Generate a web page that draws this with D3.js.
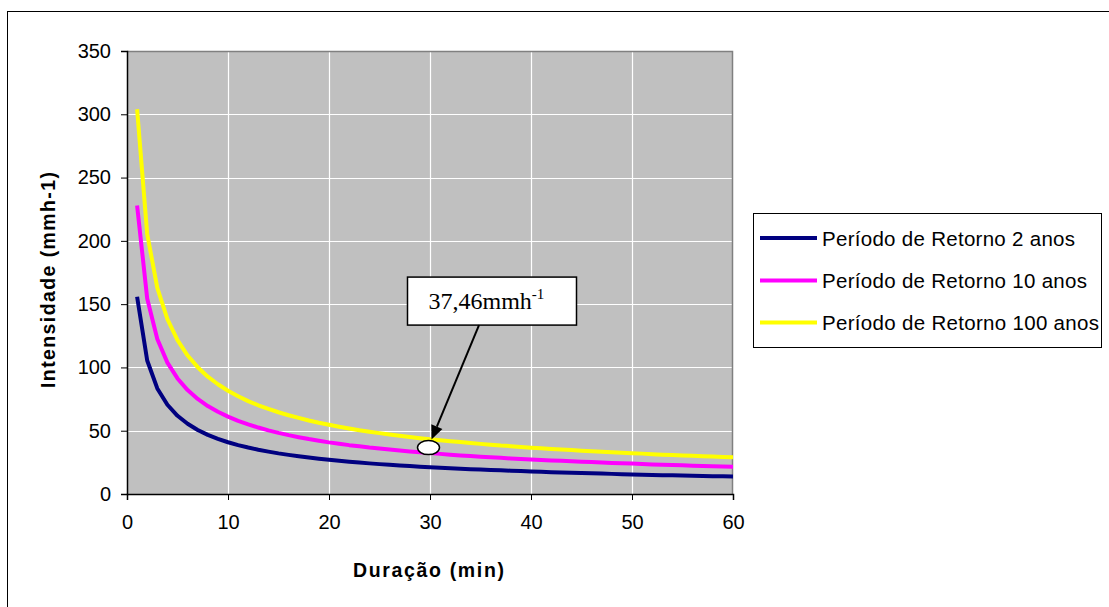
<!DOCTYPE html>
<html>
<head>
<meta charset="utf-8">
<script src="https://cdn.jsdelivr.net/npm/d3@7"></script>
<style>
  html, body { margin: 0; padding: 0; background: #fff; }
  svg { display: block; }
  text { font-family: "Liberation Sans", Arial, sans-serif; fill: #000; }
</style>
</head>
<body>
<svg id="chart" width="1109" height="607"></svg>
<script>
// ---- data ----
const durations = [1,2,3,4,5,6,7,8,9,10,11,12,13,14,15,16,17,18,19,20,
  21,22,23,24,25,26,27,28,29,30,31,32,33,34,35,36,37,38,39,40,
  41,42,43,44,45,46,47,48,49,50,51,52,53,54,55,56,57,58,59,60];

const ret2 = [155.8,105.5,83.4,70.5,61.8,55.5,50.6,46.7,43.6,40.9,
  38.6,36.7,35.0,33.5,32.1,30.9,29.8,28.8,27.9,27.0,
  26.2,25.5,24.8,24.2,23.6,23.1,22.6,22.1,21.6,21.2,
  20.8,20.4,20.0,19.6,19.3,19.0,18.7,18.4,18.1,17.8,
  17.5,17.2,17.0,16.7,16.5,16.3,16.1,15.9,15.7,15.5,
  15.3,15.1,14.9,14.8,14.6,14.4,14.3,14.1,14.0,13.8];

const ret10 = [228.0,154.4,122.5,103.8,91.3,82.1,75.1,69.5,65.0,61.1,
  57.8,55.0,52.5,50.3,48.3,46.5,44.9,43.4,42.1,40.8,
  39.7,38.6,37.7,36.7,35.9,35.1,34.3,33.6,32.9,32.3,
  31.7,31.1,30.5,30.0,29.5,29.0,28.6,28.1,27.7,27.3,
  26.9,26.5,26.2,25.8,25.5,25.2,24.8,24.5,24.2,24.0,
  23.7,23.4,23.2,22.9,22.7,22.4,22.2,22.0,21.8,21.6];

const ret100 = [304.0,205.4,162.9,138.2,121.5,109.4,100.2,92.7,86.7,81.6,
  77.2,73.4,70.1,67.2,64.6,62.2,60.1,58.1,56.3,54.7,
  53.2,51.8,50.4,49.2,48.1,47.0,46.0,45.0,44.1,43.3,
  42.5,41.7,41.0,40.3,39.6,39.0,38.3,37.8,37.2,36.6,
  36.1,35.6,35.2,34.7,34.2,33.8,33.4,33.0,32.6,32.2,
  31.9,31.5,31.1,30.8,30.5,30.2,29.9,29.6,29.3,29.0];

const seriesNames = ["Período de Retorno 2 anos", "Período de Retorno 10 anos", "Período de Retorno 100 anos"];
const seriesColors = ["#000080", "#FF00FF", "#FFFF00"];
const xTicks = [0, 10, 20, 30, 40, 50, 60];
const yTicks = [0, 50, 100, 150, 200, 250, 300, 350];
const xTitle = "Duração (min)";
const yTitle = "Intensidade (mmh-1)";
const annotX = 30;
const annotValue = 37.46;
const annotLabel = "37,46mmh";
const annotSup = "-1";

// ---- layout ----
const svg = d3.select("#chart");
const L = 127, R = 733, T = 51, B = 494;

const x = d3.scaleLinear().domain([0, 60]).range([L, R]);
const y = d3.scaleLinear().domain([0, 350]).range([B, T]);

// outer chart border (extends beyond the picture on right/bottom)
svg.append("rect").attr("x", 7.5).attr("y", 11.5).attr("width", 1200).attr("height", 700)
  .attr("fill", "#fff").attr("stroke", "#000").attr("stroke-width", 1);

// plot area
svg.append("rect").attr("x", L).attr("y", T).attr("width", R - L).attr("height", B - T)
  .attr("fill", "#C0C0C0");

// grid
const grid = svg.append("g");
grid.selectAll("line.h").data(yTicks.filter(v => v > 0 && v < 350)).enter().append("line")
  .attr("x1", L).attr("x2", R).attr("y1", d => Math.round(y(d)) + 0.5).attr("y2", d => Math.round(y(d)) + 0.5)
  .attr("stroke", "#fff").attr("stroke-width", 1.2);
grid.selectAll("line.v").data(xTicks.filter(v => v > 0 && v < 60)).enter().append("line")
  .attr("y1", T).attr("y2", B).attr("x1", d => Math.round(x(d)) + 0.5).attr("x2", d => Math.round(x(d)) + 0.5)
  .attr("stroke", "#fff").attr("stroke-width", 1.2);

// plot area top/right border
svg.append("path").attr("d", `M${L},${T + 0.5}H${R - 0.5}V${B}`)
  .attr("fill", "none").attr("stroke", "#808080").attr("stroke-width", 1.5);

// series lines
const line = d3.line().x((d, i) => x(durations[i])).y(d => y(d));
const allSeries = [ret2, ret10, ret100];
svg.append("g").selectAll("path").data(allSeries).enter().append("path")
  .attr("d", d => line(d))
  .attr("fill", "none")
  .attr("stroke", (d, i) => seriesColors[i])
  .attr("stroke-width", 4)
  .attr("stroke-linejoin", "round")
  .attr("stroke-linecap", "butt");

// axes
const xAxis = d3.axisBottom(x).tickValues(xTicks).tickSize(6).tickPadding(15);
const gx = svg.append("g").attr("transform", `translate(0,${B})`).call(xAxis);
gx.select(".domain").attr("stroke", "#000").attr("stroke-width", 1.5);
gx.selectAll(".tick line").attr("stroke", "#000");
gx.selectAll(".tick text").attr("font-size", "20px").attr("fill", "#000");

const yAxis = d3.axisLeft(y).tickValues(yTicks).tickSize(6).tickPadding(10);
const gy = svg.append("g").attr("transform", `translate(${L},0)`).call(yAxis);
gy.select(".domain").attr("stroke", "#000").attr("stroke-width", 1.5);
gy.selectAll(".tick line").attr("stroke", "#000");
gy.selectAll(".tick text").attr("font-size", "20px").attr("fill", "#000");

// axis titles
svg.append("text").attr("x", 428.5).attr("y", 577).attr("text-anchor", "middle")
  .attr("font-size", "19.5px").attr("font-weight", "bold")
  .attr("textLength", 151).attr("lengthAdjust", "spacing")
  .text(xTitle);

svg.append("text").attr("transform", `translate(55,${280}) rotate(-90)`).attr("text-anchor", "middle")
  .attr("font-size", "19.5px").attr("font-weight", "bold")
  .attr("textLength", 216).attr("lengthAdjust", "spacing")
  .text(yTitle);

// legend
const lg = svg.append("g");
lg.append("rect").attr("x", 753.5).attr("y", 213.5).attr("width", 348).attr("height", 134)
  .attr("fill", "#fff").attr("stroke", "#000").attr("stroke-width", 1);
const legY = [238, 280.5, 322.5];
const legLen = [253, 265, 277];
seriesNames.forEach((name, i) => {
  lg.append("line").attr("x1", 760).attr("x2", 817).attr("y1", legY[i]).attr("y2", legY[i])
    .attr("stroke", seriesColors[i]).attr("stroke-width", 4);
  lg.append("text").attr("x", 822).attr("y", legY[i] + 7.5)
    .attr("font-size", "20.5px")
    .attr("textLength", legLen[i]).attr("lengthAdjust", "spacing")
    .text(name);
});

// annotation
const ex = x(annotX), ey = y(annotValue);
const ann = svg.append("g");
// callout box
const bx = ex - 22.5, byTop = ey - 169.5;
ann.append("rect").attr("x", bx).attr("y", byTop).attr("width", 169).attr("height", 48)
  .attr("fill", "#fff").attr("stroke", "#000").attr("stroke-width", 1.5);
const t = ann.append("text").attr("x", bx + 21).attr("y", byTop + 32)
  .style("font-family", "'Liberation Serif', 'Times New Roman', serif").style("font-size", "24px");
t.append("tspan").text(annotLabel);
t.append("tspan").style("font-size", "15px").attr("dy", -10).text(annotSup);

// ellipse marker
ann.append("ellipse").attr("cx", ex - 1.5).attr("cy", ey + 1).attr("rx", 11).attr("ry", 7)
  .attr("fill", "#fff").attr("stroke", "#000").attr("stroke-width", 1.5);

// arrow
const sx = bx + 71.5, sy = byTop + 48;
const tx = ex + 1.5, ty = ey - 7;
const ang = Math.atan2(ty - sy, tx - sx);
const hl = 14, hw = 6;
const baseX = tx - hl * Math.cos(ang), baseY = ty - hl * Math.sin(ang);
ann.append("line").attr("x1", sx).attr("y1", sy).attr("x2", baseX).attr("y2", baseY)
  .attr("stroke", "#000").attr("stroke-width", 2);
ann.append("path")
  .attr("d", `M${tx},${ty}L${baseX + hw * Math.sin(ang)},${baseY - hw * Math.cos(ang)}L${baseX - hw * Math.sin(ang)},${baseY + hw * Math.cos(ang)}Z`)
  .attr("fill", "#000");
</script>
</body>
</html>
